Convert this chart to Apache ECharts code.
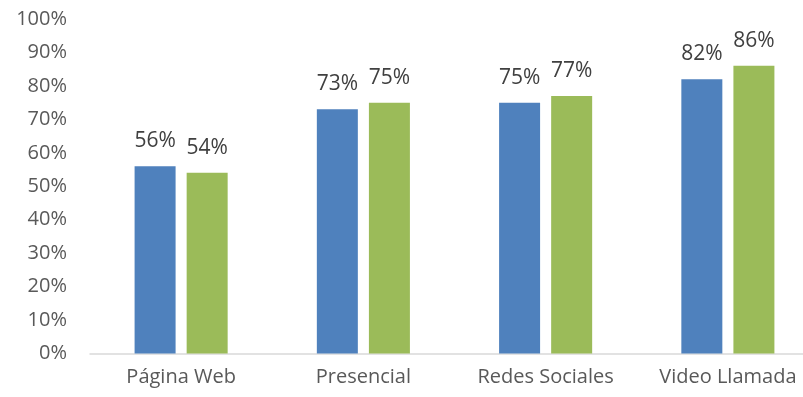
<!DOCTYPE html>
<html>
<head>
<meta charset="utf-8">
<style>
  html, body { margin: 0; padding: 0; background: #fff; overflow: hidden; }
  #wrap { width: 803px; height: 397px; overflow: hidden; }
  /* plot runs slightly past the right edge, so the canvas is wider than the view */
  #chart { width: 819px; height: 397px; }
</style>
<script src="https://cdn.jsdelivr.net/npm/echarts@6/dist/echarts.min.js"></script>
</head>
<body>
<div id="wrap"><div id="chart"></div></div>
<script>
// Categories and the two series (percent values)
const categories = ['Página Web', 'Presencial', 'Redes Sociales', 'Video Llamada'];
const seriesA = [56, 73, 75, 82];
const seriesB = [54, 75, 77, 86];

const FONT = '"Open Sans", sans-serif';

const chart = echarts.init(document.getElementById('chart'), null, { renderer: 'canvas' });

const labelStyle = {
  show: true,
  position: 'top',
  distance: 13,
  formatter: p => p.value + '%',
  color: '#404040',
  fontFamily: FONT,
  fontSize: 21,
  lineHeight: 24
};

chart.setOption({
  animation: false,
  backgroundColor: '#ffffff',
  grid: { left: 90, right: 0, top: 19, bottom: 43.5, containLabel: false },
  xAxis: {
    type: 'category',
    data: categories,
    axisLine: { show: true, lineStyle: { color: '#D9D9D9', width: 1.5 } },
    axisTick: { show: false },
    axisLabel: { color: '#595959', fontFamily: FONT, fontSize: 20, margin: 14 }
  },
  yAxis: {
    type: 'value',
    min: 0,
    max: 100,
    interval: 10,
    splitLine: { show: false },
    axisLine: { show: false },
    axisTick: { show: false },
    axisLabel: { color: '#595959', fontFamily: FONT, fontSize: 20, margin: 23, formatter: v => v + '%' }
  },
  series: [
    {
      type: 'bar',
      data: seriesA,
      barWidth: 41,
      barGap: '27%',
      itemStyle: { color: '#4F81BD' },
      label: labelStyle
    },
    {
      type: 'bar',
      data: seriesB,
      barWidth: 41,
      barGap: '27%',
      itemStyle: { color: '#9BBB59' },
      label: labelStyle
    }
  ]
});
</script>
</body>
</html>
